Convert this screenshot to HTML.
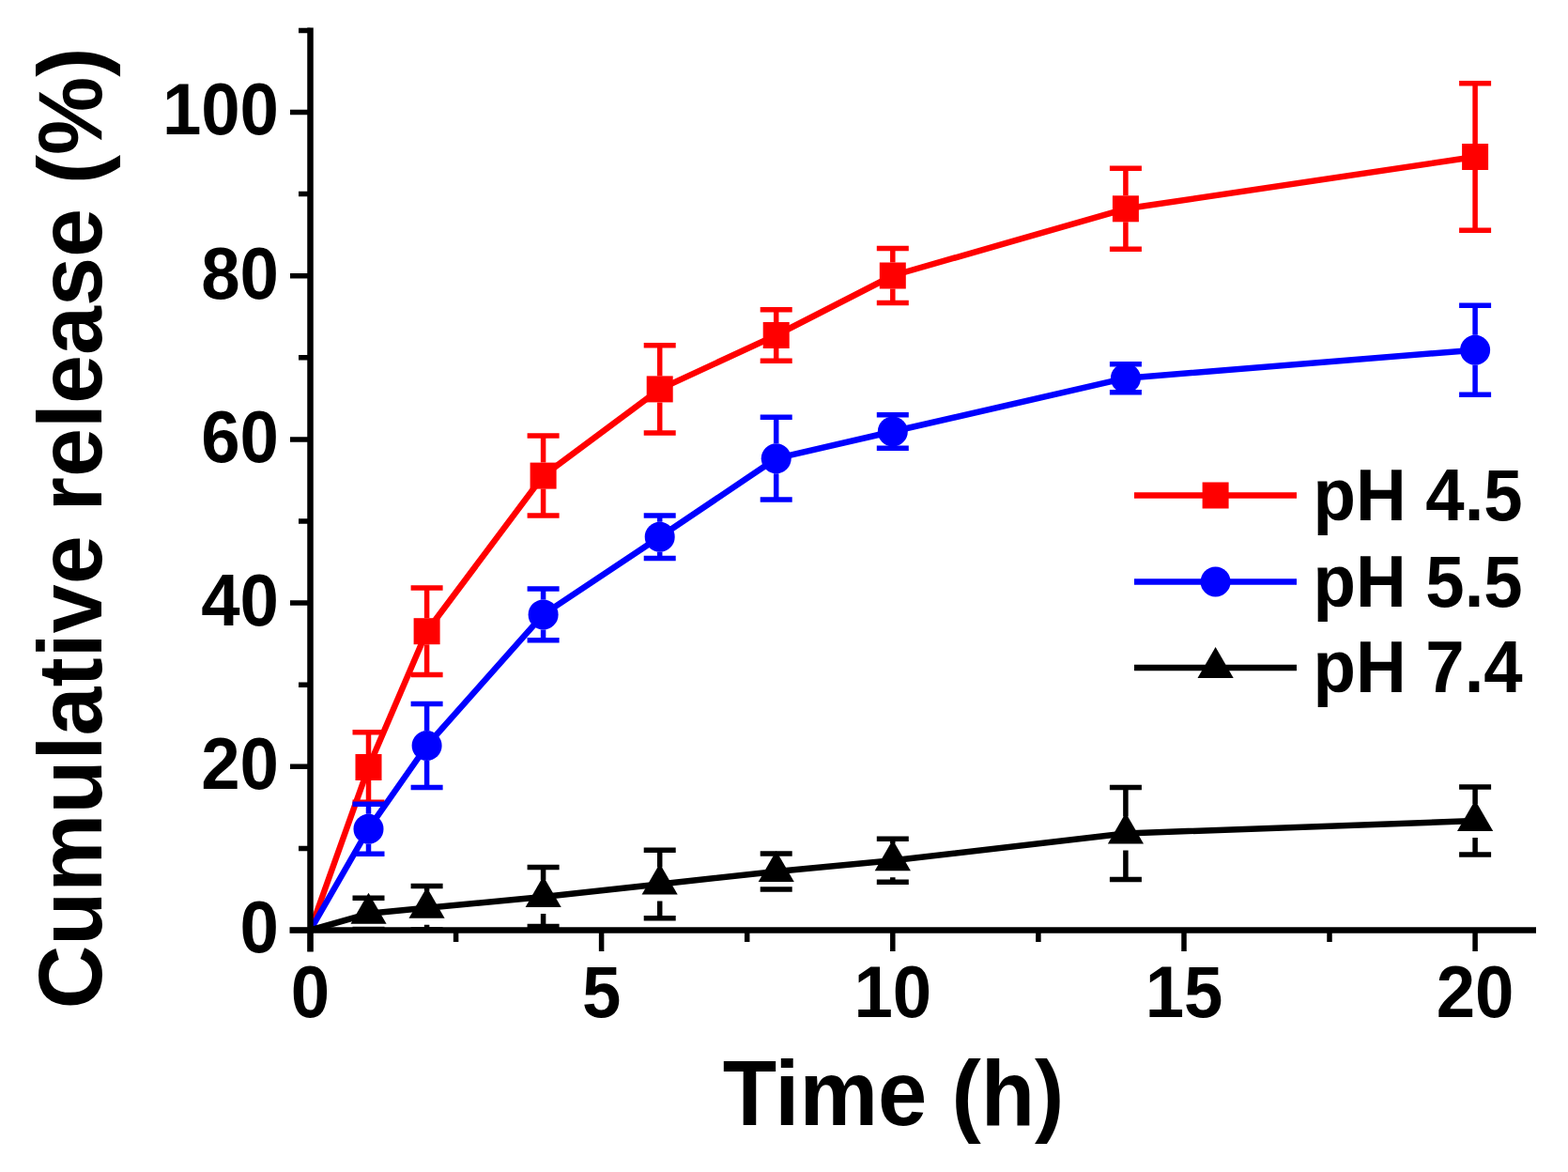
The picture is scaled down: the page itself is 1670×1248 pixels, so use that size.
<!DOCTYPE html>
<html><head><meta charset="utf-8"><title>Cumulative release</title>
<style>html,body{margin:0;padding:0;background:#fff;}svg{display:block;}#w{width:1670px;height:1248px;}</style>
</head><body><div id="w">
<svg width="1670" height="1248" viewBox="0 0 1670 1248" font-family="'Liberation Sans', Arial, sans-serif" font-weight="bold">
<rect width="1670" height="1248" fill="#fff"/>
<polyline fill="none" stroke="#f00" stroke-width="6.5" stroke-linejoin="round" points="330.5,990.5 392.5,817.0 454.6,672.2 578.6,506.6 702.7,414.4 826.7,357.0 950.8,293.5 1198.9,222.3 1571.1,167.0"/>
<path fill="none" stroke="#f00" stroke-width="5.5" d="M392.5 803.0V779.7M392.5 831.0V854.3M375.5 779.7H409.5M375.5 854.3H409.5M454.6 658.2V626.0M454.6 686.2V718.4M437.6 626.0H471.6M437.6 718.4H471.6M578.6 492.6V464.1M578.6 520.6V549.1M561.6 464.1H595.6M561.6 549.1H595.6M702.7 400.4V367.8M702.7 428.4V461.0M685.7 367.8H719.7M685.7 461.0H719.7M826.7 343.0V329.7M826.7 371.0V384.3M809.7 329.7H843.7M809.7 384.3H843.7M950.8 279.5V264.5M950.8 307.5V322.5M933.8 264.5H967.8M933.8 322.5H967.8M1198.9 208.3V179.3M1198.9 236.3V265.3M1181.9 179.3H1215.9M1181.9 265.3H1215.9M1571.1 153.0V88.8M1571.1 181.0V245.2M1554.1 88.8H1588.1M1554.1 245.2H1588.1"/>
<rect x="378.5" y="803.0" width="28" height="28" fill="#f00"/>
<rect x="440.6" y="658.2" width="28" height="28" fill="#f00"/>
<rect x="564.6" y="492.6" width="28" height="28" fill="#f00"/>
<rect x="688.7" y="400.4" width="28" height="28" fill="#f00"/>
<rect x="812.7" y="343.0" width="28" height="28" fill="#f00"/>
<rect x="936.8" y="279.5" width="28" height="28" fill="#f00"/>
<rect x="1184.9" y="208.3" width="28" height="28" fill="#f00"/>
<rect x="1557.1" y="153.0" width="28" height="28" fill="#f00"/>
<polyline fill="none" stroke="#00f" stroke-width="6.5" stroke-linejoin="round" points="330.5,990.5 392.5,882.7 454.6,794.0 578.6,654.4 702.7,571.8 826.7,488.2 950.8,459.5 1198.9,402.7 1571.1,372.7"/>
<path fill="none" stroke="#00f" stroke-width="5.5" d="M392.5 866.7V856.2M392.5 898.7V909.2M375.5 856.2H409.5M375.5 909.2H409.5M454.6 778.0V749.5M454.6 810.0V838.5M437.6 749.5H471.6M437.6 838.5H471.6M578.6 638.4V627.0M578.6 670.4V681.8M561.6 627.0H595.6M561.6 681.8H595.6M702.7 555.8V549.1M702.7 587.8V594.5M685.7 549.1H719.7M685.7 594.5H719.7M826.7 472.2V444.3M826.7 504.2V532.1M809.7 444.3H843.7M809.7 532.1H843.7M950.8 443.5V441.7M950.8 475.5V477.3M933.8 441.7H967.8M933.8 477.3H967.8M1181.9 387.7H1215.9M1181.9 417.7H1215.9M1571.1 356.7V325.2M1571.1 388.7V420.2M1554.1 325.2H1588.1M1554.1 420.2H1588.1"/>
<circle cx="392.5" cy="882.7" r="16" fill="#00f"/>
<circle cx="454.6" cy="794.0" r="16" fill="#00f"/>
<circle cx="578.6" cy="654.4" r="16" fill="#00f"/>
<circle cx="702.7" cy="571.8" r="16" fill="#00f"/>
<circle cx="826.7" cy="488.2" r="16" fill="#00f"/>
<circle cx="950.8" cy="459.5" r="16" fill="#00f"/>
<circle cx="1198.9" cy="402.7" r="16" fill="#00f"/>
<circle cx="1571.1" cy="372.7" r="16" fill="#00f"/>
<polyline fill="none" stroke="#000" stroke-width="6.5" stroke-linejoin="round" points="330.5,990.5 392.5,972.8 454.6,966.8 578.6,955.0 702.7,941.5 826.7,928.0 950.8,916.3 1198.9,887.5 1571.1,874.0"/>
<path fill="none" stroke="#000" stroke-width="5.5" d="M375.5 956.2H409.5M375.5 989.4H409.5M454.6 948.8V943.6M454.6 984.8V990.0M437.6 943.6H471.6M437.6 990.0H471.6M578.6 937.0V923.5M578.6 973.0V986.5M561.6 923.5H595.6M561.6 986.5H595.6M702.7 923.5V905.3M702.7 959.5V977.7M685.7 905.3H719.7M685.7 977.7H719.7M826.7 910.0V909.0M826.7 946.0V947.0M809.7 909.0H843.7M809.7 947.0H843.7M950.8 898.3V893.3M950.8 934.3V939.3M933.8 893.3H967.8M933.8 939.3H967.8M1198.9 869.5V838.6M1198.9 905.5V936.4M1181.9 838.6H1215.9M1181.9 936.4H1215.9M1571.1 856.0V838.0M1571.1 892.0V910.0M1554.1 838.0H1588.1M1554.1 910.0H1588.1"/>
<path d="M392.5 950.8L411.6 983.8L373.5 983.8Z" fill="#000"/>
<path d="M454.6 944.8L473.6 977.8L435.5 977.8Z" fill="#000"/>
<path d="M578.6 933.0L597.7 966.0L559.6 966.0Z" fill="#000"/>
<path d="M702.7 919.5L721.7 952.5L683.6 952.5Z" fill="#000"/>
<path d="M826.7 906.0L845.8 939.0L807.7 939.0Z" fill="#000"/>
<path d="M950.8 894.3L969.9 927.3L931.7 927.3Z" fill="#000"/>
<path d="M1198.9 865.5L1218.0 898.5L1179.9 898.5Z" fill="#000"/>
<path d="M1571.1 852.0L1590.2 885.0L1552.0 885.0Z" fill="#000"/>
<path fill="none" stroke="#000" stroke-width="6.5" d="M330.5 29.5V1013.5"/>
<path fill="none" stroke="#000" stroke-width="6.5" d="M308.5 990.5H1636.0"/>
<path fill="none" stroke="#000" stroke-width="5.5" d="M309.0 990.5H330.5M318.0 903.4H330.5M309.0 816.3H330.5M318.0 729.2H330.5M309.0 642.1H330.5M318.0 555.0H330.5M309.0 467.9H330.5M318.0 380.8H330.5M309.0 293.7H330.5M318.0 206.6H330.5M309.0 119.5H330.5M318.0 32.4H330.5M330.5 990.5V1013.0M485.6 990.5V1003.0M640.6 990.5V1013.0M795.7 990.5V1003.0M950.8 990.5V1013.0M1105.9 990.5V1003.0M1261.0 990.5V1013.0M1416.0 990.5V1003.0M1571.1 990.5V1013.0"/>
<text transform="translate(297,1014.3) scale(1,1.04)" text-anchor="end" font-size="74.4">0</text>
<text transform="translate(297,840.1) scale(1,1.04)" text-anchor="end" font-size="74.4">20</text>
<text transform="translate(297,665.9) scale(1,1.04)" text-anchor="end" font-size="74.4">40</text>
<text transform="translate(297,491.7) scale(1,1.04)" text-anchor="end" font-size="74.4">60</text>
<text transform="translate(297,317.5) scale(1,1.04)" text-anchor="end" font-size="74.4">80</text>
<text transform="translate(297,143.3) scale(1,1.04)" text-anchor="end" font-size="74.4">100</text>
<text transform="translate(330.5,1082.5) scale(1,1.04)" text-anchor="middle" font-size="74.4">0</text>
<text transform="translate(640.6,1082.5) scale(1,1.04)" text-anchor="middle" font-size="74.4">5</text>
<text transform="translate(950.8,1082.5) scale(1,1.04)" text-anchor="middle" font-size="74.4">10</text>
<text transform="translate(1261.0,1082.5) scale(1,1.04)" text-anchor="middle" font-size="74.4">15</text>
<text transform="translate(1571.1,1082.5) scale(1,1.04)" text-anchor="middle" font-size="74.4">20</text>
<text transform="translate(951.5,1197.5) scale(1,1.04)" text-anchor="middle" font-size="94">Time (h)</text>
<text transform="translate(108,562.5) rotate(-90) scale(1,1.04)" text-anchor="middle" font-size="93.5">Cumulative release (%)</text>
<path stroke="#f00" stroke-width="6.5" d="M1208 527.5H1381"/>
<rect x="1280.6" y="513.5" width="28" height="28" fill="#f00"/>
<text transform="translate(1398.5,554.4) scale(1,1.04)" font-size="74.4">pH 4.5</text>
<path stroke="#00f" stroke-width="6.5" d="M1208 619.5H1381"/>
<circle cx="1294.6" cy="619.5" r="16" fill="#00f"/>
<text transform="translate(1398.5,645.8) scale(1,1.04)" font-size="74.4">pH 5.5</text>
<path stroke="#000" stroke-width="6.5" d="M1208 711.0H1381"/>
<path d="M1294.6 689.0L1313.7 722.0L1275.5 722.0Z" fill="#000"/>
<text transform="translate(1398.5,736.6) scale(1,1.04)" font-size="74.4">pH 7.4</text>
</svg>
</div></body></html>
